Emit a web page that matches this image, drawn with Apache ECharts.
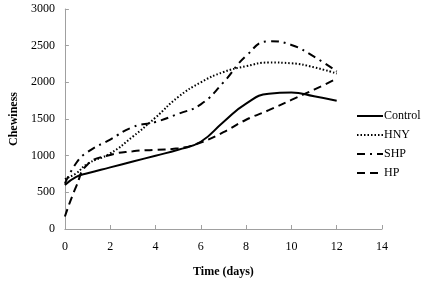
<!DOCTYPE html>
<html>
<head>
<meta charset="utf-8">
<script src="https://cdn.jsdelivr.net/npm/echarts@6/dist/echarts.min.js"></script>
<style>
  html, body { margin: 0; padding: 0; background: #fff; }
  #chart { width: 425px; height: 283px; }
</style>
</head>
<body>
<div id="chart"></div>
<script>
// sampling days
const days = [0, 0.5, 1, 2, 3, 4, 5, 6, 7, 8, 9, 10, 11, 12]

// chewiness per treatment
const control = [600, 710, 760, 840, 920, 1000, 1080, 1190, 1460, 1710, 1845, 1860, 1810, 1750]
const hny = [680, 760, 890, 1030, 1260, 1520, 1800, 2000, 2140, 2220, 2270, 2260, 2205, 2120]
const shp = [620, 900, 1050, 1220, 1390, 1460, 1570, 1700, 2000, 2360, 2560, 2510, 2350, 2150]
const hp = [170, 580, 880, 1010, 1060, 1080, 1100, 1180, 1320, 1490, 1620, 1760, 1900, 2050]

const font = 'Liberation Serif'

function pairs(vals) {
  return days.map((d, i) => [d, vals[i]])
}

function line(name, vals, type) {
  return {
    name,
    type: 'line',
    data: pairs(vals),
    smooth: 0.5,
    symbol: 'none',
    lineStyle: { color: '#000', width: 2, type },
    itemStyle: { color: '#000' }
  }
}

const chart = echarts.init(document.getElementById('chart'))
chart.setOption({
  backgroundColor: '#fff',
  animation: false,
  textStyle: { fontFamily: font },
  grid: { left: 61, right: 43, top: 9, bottom: 48 },
  legend: {
    orient: 'vertical',
    left: 351,
    top: 105,
    itemWidth: 26,
    itemHeight: 12,
    itemGap: 7,
    itemStyle: { opacity: 0 },
    textStyle: { fontFamily: font, fontSize: 12, color: '#000', padding: [0, 0, 0, -4] },
    data: ['Control', 'HNY', 'SHP', 'HP']
  },
  xAxis: {
    type: 'value',
    min: 0,
    max: 14,
    interval: 2,
    name: 'Time (days)',
    nameLocation: 'middle',
    nameGap: 37,
    nameTextStyle: { fontFamily: font, fontSize: 12, fontWeight: 'bold', color: '#000' },
    axisLine: { lineStyle: { color: '#a0a0a0' } },
    axisTick: { inside: true, length: 4, lineStyle: { color: '#a0a0a0' } },
    axisLabel: { fontFamily: font, fontSize: 12, color: '#000', margin: 12 },
    splitLine: { show: false }
  },
  yAxis: {
    type: 'value',
    min: 0,
    max: 3000,
    interval: 500,
    name: 'Chewiness',
    nameLocation: 'middle',
    nameGap: 43,
    nameTextStyle: { fontFamily: font, fontSize: 12, fontWeight: 'bold', color: '#000' },
    axisLine: { show: true, lineStyle: { color: '#a0a0a0' } },
    axisTick: { show: true, inside: true, length: 4, lineStyle: { color: '#a0a0a0' } },
    axisLabel: { fontFamily: font, fontSize: 12, color: '#000', margin: 10, formatter: (v) => String(v) },
    splitLine: { show: false }
  },
  series: [
    line('Control', control, 'solid'),
    line('HNY', hny, [1.5, 2]),
    line('SHP', shp, [8, 5, 2, 5]),
    line('HP', hp, [8, 5])
  ]
})
</script>
</body>
</html>
